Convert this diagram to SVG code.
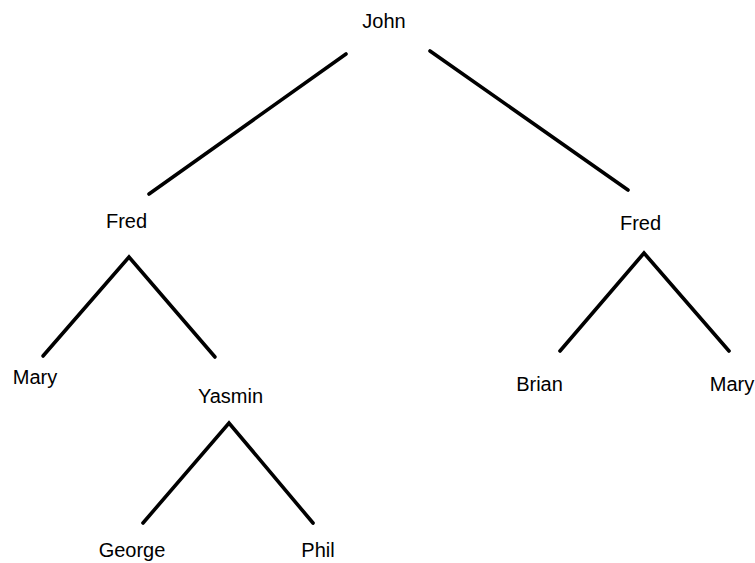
<svg xmlns="http://www.w3.org/2000/svg" width="755" height="563" viewBox="0 0 755 563">
<style>
.lbl{font-family:"Liberation Sans",Arial,sans-serif;font-size:20px;fill:#000;text-anchor:middle}
.edge{stroke:#000;stroke-width:3.6;stroke-linecap:round;fill:none}
</style>
<rect width="755" height="563" fill="#fff"/>
<g id="connectors">
<line class="edge" x1="346" y1="54" x2="149" y2="194"/>
<line class="edge" x1="430" y1="51" x2="628" y2="190"/>
<polyline class="edge" points="43,356 129,257 215,357"/>
<polyline class="edge" points="560,351 644,253 729,351"/>
<polyline class="edge" points="143,523 229,423 313,523"/>
</g>
<g id="john"><text class="lbl" x="384" y="28">John</text></g>
<g id="fred-left"><text class="lbl" x="126.5" y="228">Fred</text></g>
<g id="fred-right"><text class="lbl" x="640.5" y="230">Fred</text></g>
<g id="mary-left"><text class="lbl" x="35" y="384">Mary</text></g>
<g id="yasmin"><text class="lbl" x="230.5" y="403">Yasmin</text></g>
<g id="george"><text class="lbl" x="132" y="557">George</text></g>
<g id="phil"><text class="lbl" x="318" y="557">Phil</text></g>
<g id="brian"><text class="lbl" x="539.5" y="391">Brian</text></g>
<g id="mary-right"><text class="lbl" x="732" y="391">Mary</text></g>
</svg>
